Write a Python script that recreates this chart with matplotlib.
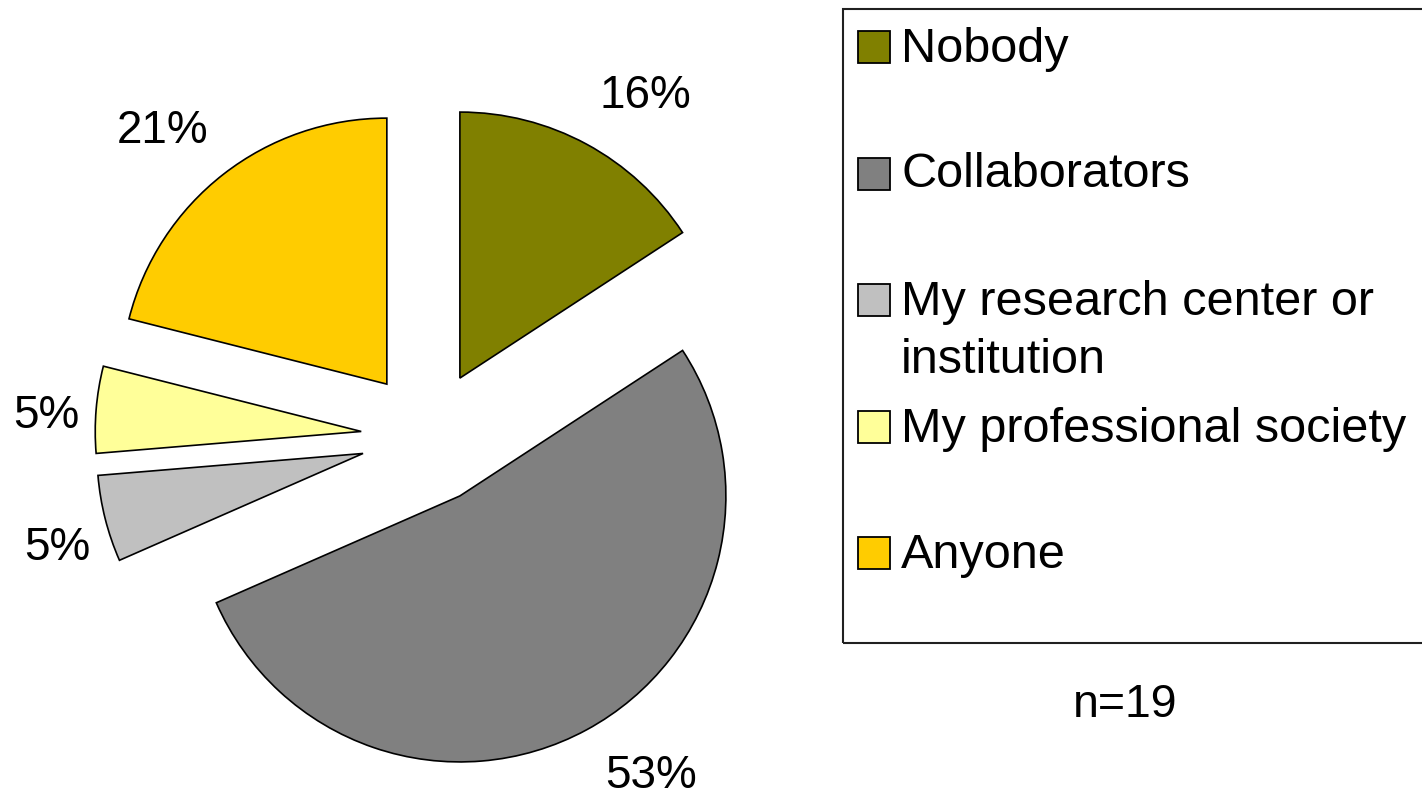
import matplotlib
matplotlib.use("Agg")
import matplotlib.pyplot as plt
from matplotlib.patches import Rectangle

plt.rcParams['font.family'] = ['Liberation Sans', 'DejaVu Sans']

# survey answers (n=19)
categories = ['Nobody', 'Collaborators', 'My research center or\ninstitution',
              'My professional society', 'Anyone']
counts = [3, 10, 1, 1, 4]
colors = ['#808000', '#808080', '#C0C0C0', '#FFFF99', '#FFCC00']
n_total = sum(counts)

W, H = 1422, 798
fig = plt.figure(figsize=(W / 100, H / 100), dpi=100)
ax = fig.add_axes([0, 0, 1, 1])

# pixel-like coordinates, y measured from the bottom
cx, cy, rad = 428, H - 437, 266
wedges, texts, autotexts = ax.pie(
    counts, colors=colors, startangle=90, counterclock=False,
    center=(cx, cy), radius=rad, explode=[67] * len(counts),
    autopct=lambda p: f'{p:.0f}%', pctdistance=1.25,
    wedgeprops=dict(edgecolor='black', linewidth=1.2),
    textprops=dict(fontsize=33, color='black'))

# percentage labels sit outside the slices (x, baseline y from the top)
pct_pos = [(645, 108), (651, 788), (57, 560), (46, 428), (163, 143)]
for t, (x, y) in zip(autotexts, pct_pos):
    t.set_position((x, H - y))
    t.set_ha('center')
    t.set_va('baseline')

ax.set_xlim(0, W)
ax.set_ylim(0, H)
ax.set_aspect('equal')
ax.axis('off')

# legend box, running off the right edge
ax.add_patch(Rectangle((843, H - 643), 600, 634, fill=False,
                       edgecolor='#202020', linewidth=1.5, clip_on=False))
box_y = [47, 174, 300, 427, 553]
# baseline of the last line of each entry
text_y = [62, 187, 373, 442, 568]
for lab, col, by, ty in zip(categories, colors, box_y, text_y):
    ax.add_patch(Rectangle((858, H - by - 16), 32, 32, facecolor=col,
                           edgecolor='black', linewidth=1.3))
    ax.text(901, H - ty, lab, fontsize=35, va='baseline', ha='left',
            linespacing=1.37)

ax.text(1125, H - 717, f'n={n_total}', fontsize=33.5, ha='center',
        va='baseline')

fig.savefig('out.png', dpi=100)
